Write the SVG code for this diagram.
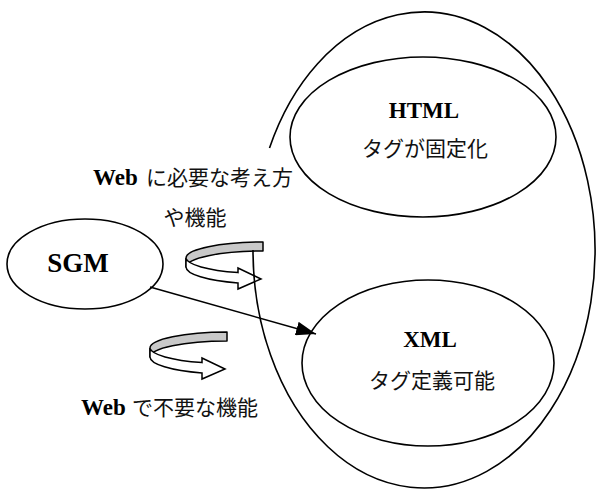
<svg xmlns="http://www.w3.org/2000/svg" width="596" height="490" viewBox="0 0 596 490">
  <style>
    .shape { fill: none; stroke: #000; stroke-width: 1.6; }
    .lat { font-family: "Liberation Serif", "Times New Roman", serif; font-weight: bold; fill: #000; }
    .jp { font-family: "Noto Sans CJK JP", "Noto Sans", sans-serif; font-size: 21px; fill: #111; }
    .band-back { fill: #c9c9c9; stroke: #000; stroke-width: 1.5; stroke-linejoin: round; }
    .band-front { fill: #fff; stroke: #000; stroke-width: 1.5; stroke-linejoin: miter; }
    .edge { fill: none; stroke: #000; stroke-width: 1.5; }
  </style>
  <defs>
    <marker id="head" markerUnits="userSpaceOnUse" markerWidth="20" markerHeight="14" refX="20" refY="7" orient="auto">
      <path d="M0,0 L20,7 L0,14 Z" fill="#000"/>
    </marker>
    <!-- ribbon-style curved arrow: grey back strip over a white front strip ending in a head -->
    <g id="curved-arrow">
      <path class="band-back" d="M0,0 A77,16 0 0 0 -77,16 L-77,25 A77,16 0 0 1 0,9 Z"/>
      <path class="band-front" d="M-77,16 A77,16 0 0 0 -25,30.6 L-25,26 L-2,37 L-25,47 L-25,41 A77,17 0 0 1 -77,25 Z"/>
    </g>
  </defs>

  <rect width="596" height="490" fill="#fff"/>

  <!-- turning arrows -->
  <g id="turn-arrows">
    <use href="#curved-arrow" transform="translate(263,242)"/>
    <use href="#curved-arrow" transform="translate(227,332)"/>
  </g>

  <!-- outer boundary, open where the upper label sits -->
  <g id="node-web">
    <path class="shape" d="M253,250 A171,238 0 1 0 269.5,148"/>
  </g>

  <g id="node-html">
    <ellipse class="shape" cx="423" cy="137" rx="133" ry="80"/>
    <text class="lat" x="424" y="118" font-size="23" text-anchor="middle">HTML</text>
    <text class="jp" x="425" y="156" text-anchor="middle">タグが固定化</text>
  </g>

  <g id="node-xml">
    <ellipse class="shape" cx="428" cy="363" rx="126" ry="83"/>
    <text class="lat" x="430" y="347" font-size="23" text-anchor="middle">XML</text>
    <text class="jp" x="432" y="388" text-anchor="middle">タグ定義可能</text>
  </g>

  <g id="node-sgm">
    <ellipse class="shape" cx="85" cy="264" rx="78" ry="45"/>
    <text class="lat" x="78" y="272" font-size="27" text-anchor="middle">SGM</text>
  </g>

  <g id="label-needed">
    <text x="93" y="185"><tspan class="lat" font-size="23">Web</tspan><tspan class="jp" x="146">に必要な考え方</tspan></text>
    <text class="jp" x="195" y="224.5" text-anchor="middle">や機能</text>
  </g>

  <g id="label-unneeded">
    <text x="81" y="415"><tspan class="lat" font-size="23">Web</tspan><tspan class="jp" x="132">で不要な機能</tspan></text>
  </g>

  <g id="connectors">
    <line class="edge" x1="150" y1="287" x2="316" y2="334" marker-end="url(#head)"/>
  </g>
</svg>
